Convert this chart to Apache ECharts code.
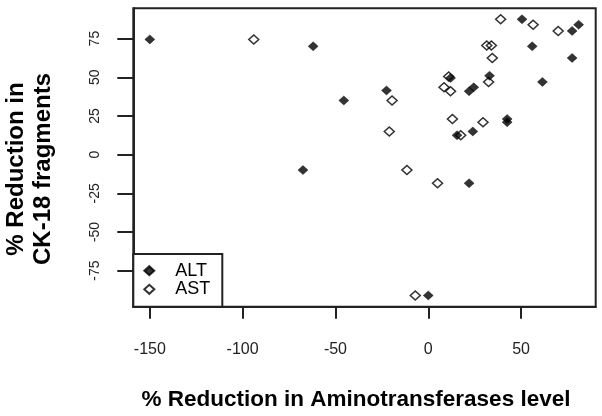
<!DOCTYPE html>
<html><head><meta charset="utf-8">
<script src="https://cdn.jsdelivr.net/npm/echarts@6/dist/echarts.min.js"></script>
<style>html,body{margin:0;padding:0;background:#fff}#c{width:602px;height:416px}</style>
</head><body><div id="c"></div>
<script>
// ALT (filled diamonds)
const altX = [-150, -62, -45.5, -67.5, 50.5, 81, 77.5, 56, 77.5, 61.5, 33, 12, -22.5, 22, 24.5, 42.5, 42.5, 15.5, 24, 22, 0];
const altY = [74.5, 70, 35, -10, 87.5, 84, 80, 70, 62.5, 47, 51, 49.5, 41.5, 41, 43.5, 23, 21, 12.5, 15, -18.5, -91];
// AST (open diamonds)
const astX = [-94, 39, 56.5, 70, 31.5, 34, 34.5, 11, 8.5, 12, 32.5, -19.5, 13, 29.5, 17.5, -21, -11.5, 5, -7];
const astY = [74.5, 87.5, 84, 80, 70.5, 70.5, 62.5, 50.5, 43.5, 41, 47, 35, 23, 21, 12.5, 15, -10, -18.5, -91];
const xTicks = [-150, -100, -50, 0, 50];
const yTicks = [-75, -50, -25, 0, 25, 50, 75];
const seriesNames = ['ALT', 'AST'];
const xTitle = '% Reduction in Aminotransferases level';
const yTitle1 = '% Reduction in';
const yTitle2 = 'CK-18 fragments';

const F = '"Liberation Sans", Arial, sans-serif';
const zip = (a, b) => a.map((v, i) => [v, b[i]]);
const chart = echarts.init(document.getElementById('c'), null, {renderer: 'canvas'});
const axisCommon = {
  type: 'value',
  splitLine: {show: false},
  axisLine: {show: true, onZero: false, lineStyle: {color: '#222', width: 2}},
};
chart.setOption({
  animation: false,
  grid: {left: 133.3, top: 8.3, width: 462.4, height: 298.4, show: true, borderColor: '#222', borderWidth: 2, backgroundColor: 'transparent'},
  xAxis: Object.assign({}, axisCommon, {
    min: -158.9, max: 90.2,
    axisTick: {show: true, length: 12, lineStyle: {color: '#222', width: 2}, customValues: xTicks},
    axisLabel: {customValues: xTicks, margin: 35, fontSize: 16, color: '#222', fontFamily: F}
  }),
  yAxis: Object.assign({}, axisCommon, {
    min: -98.3, max: 94.6,
    axisTick: {show: true, length: 16, lineStyle: {color: '#222', width: 2}, customValues: yTicks},
    axisLabel: {customValues: yTicks, rotate: 90, margin: 31, fontSize: 14, color: '#222', fontFamily: F}
  }),
  legend: {
    orient: 'vertical', left: 133.3, top: 254,
    padding: [7.7, 12, 8.4, 10],
    itemWidth: 10, itemHeight: 9, itemGap: 0.6,
    backgroundColor: '#fff', borderColor: '#222', borderWidth: 2, borderRadius: 0,
    textStyle: {fontSize: 18, lineHeight: 18, color: '#000', fontFamily: F, padding: [0, 0, 0, 16]},
    data: seriesNames
  },
  series: [
    {name: seriesNames[0], type: 'scatter', symbol: 'diamond', symbolSize: [10, 9],
     itemStyle: {color: '#000', borderColor: '#000', borderWidth: 0.5}, data: zip(altX, altY), z: 2},
    {name: seriesNames[1], type: 'scatter', symbol: 'diamond', symbolSize: [10, 9],
     itemStyle: {color: 'transparent', borderColor: '#000', borderWidth: 1.5}, data: zip(astX, astY), z: 3}
  ],
  graphic: [
    {type: 'text', x: 356, y: 400, style: {text: xTitle, fontSize: 22.5, fontWeight: 'bold', fontFamily: F, fill: '#000', align: 'center', verticalAlign: 'middle'}},
    {type: 'text', x: 16, y: 169, rotation: Math.PI / 2, style: {text: yTitle1, fontSize: 24, fontWeight: 'bold', fontFamily: F, fill: '#000', align: 'center', verticalAlign: 'middle'}},
    {type: 'text', x: 43, y: 169, rotation: Math.PI / 2, style: {text: yTitle2, fontSize: 24, fontWeight: 'bold', fontFamily: F, fill: '#000', align: 'center', verticalAlign: 'middle'}}
  ]
});
</script></body></html>
